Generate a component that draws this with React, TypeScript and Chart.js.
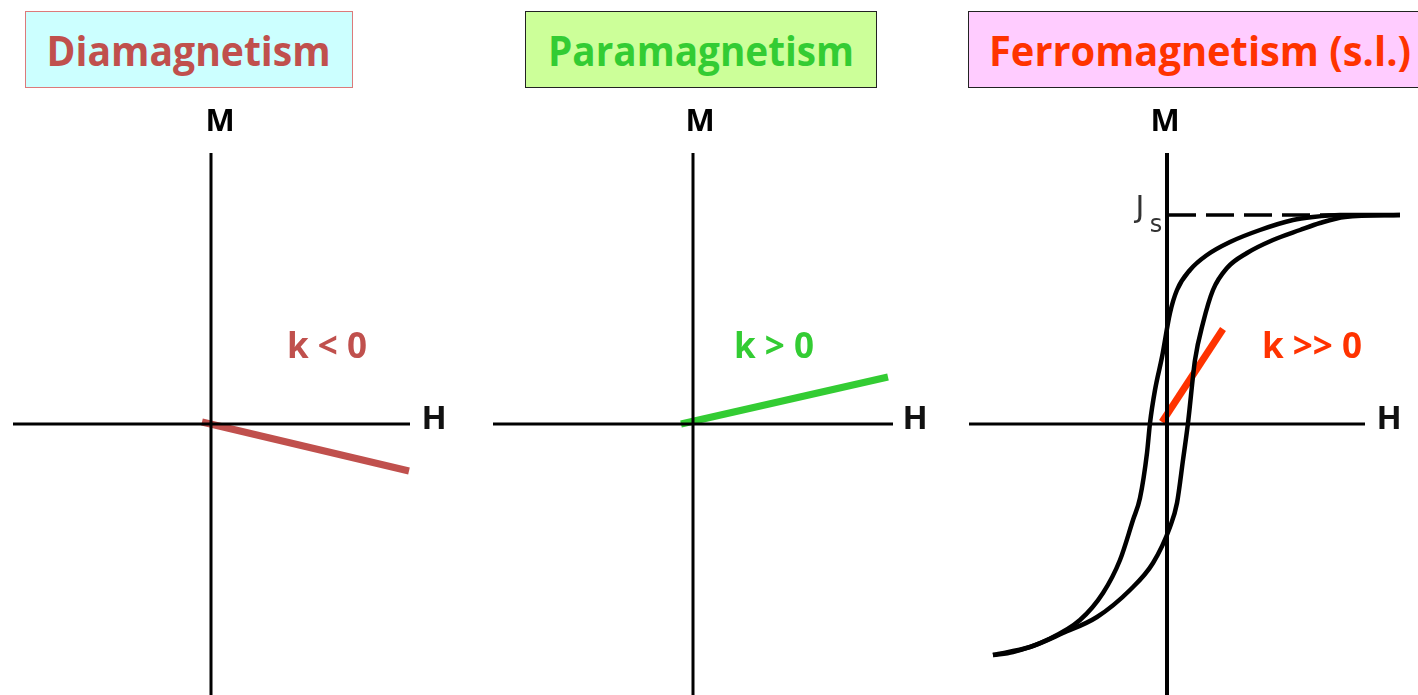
import React, { useEffect, useRef } from "react";
import { Chart, registerables } from "chart.js";

Chart.register(...registerables);

// ---------- data (H, M in arbitrary field / magnetisation units) ----------
const titles = ["Diamagnetism", "Paramagnetism", "Ferromagnetism (s.l.)"];
const kLabels = ["k < 0", "k > 0", "k >> 0"];

const diaH = [-0.09, 1.98];
const diaM = [0.02, -0.47];

const paraH = [-0.12, 1.95];
const paraM = [0.0, 0.47];

const ferroLineH = [-0.05, 0.56];
const ferroLineM = [0.02, 0.95];

// descending branch of the hysteresis loop (sorted by H)
const descH = [-1.74, -1.54, -1.2, -0.87, -0.64, -0.47, -0.34, -0.27, -0.2, -0.17, -0.12, -0.05, 0.03, 0.1, 0.23, 0.4, 0.63, 0.93, 1.26, 1.46, 1.73, 2.33];
const descM = [-2.31, -2.28, -2.16, -1.96, -1.69, -1.36, -0.96, -0.74, -0.29, 0.01, 0.34, 0.67, 1.11, 1.34, 1.54, 1.69, 1.82, 1.94, 2.04, 2.07, 2.09, 2.09];

// ascending branch of the hysteresis loop
const ascH = [-1.74, -1.37, -1.04, -0.7, -0.37, -0.14, 0.03, 0.1, 0.16, 0.21, 0.28, 0.36, 0.46, 0.6, 0.8, 1.06, 1.33, 1.53, 1.78, 2.33];
const ascM = [-2.31, -2.23, -2.09, -1.93, -1.66, -1.39, -1.03, -0.79, -0.36, 0.01, 0.64, 1.01, 1.34, 1.56, 1.71, 1.84, 1.94, 2.01, 2.07, 2.09];

const Js = 2.09;
const JsLineH = [0.01, 1.75];

// axis extents
const hAxisDia = [-1.98, 1.99];
const hAxisPara = [-2.0, 2.0];
const hAxisFerro = [-1.98, 1.98];
const mAxis = [2.71, -2.9];

// ---------- helpers ----------
const pts = (hs: number[], ms: number[]) => hs.map((h, i) => ({ x: h, y: ms[i] }));

type Label = { text: string; h: number; m: number; font: string; color: string };

const AXIS_FONT_M = "bold 31px 'Open Sans'";
const AXIS_FONT_H = "bold 33px 'Open Sans'";
const K_FONT = "bold 35px 'Open Sans'";

type Panel = {
  left: number;
  width: number;
  xmin: number;
  xmax: number;
  datasets: any[];
  labels: Label[];
};

const axisDs = (hAxis: number[], vWidth: number) => [
  {
    data: pts(hAxis, [0, 0]),
    borderColor: "#000",
    borderWidth: 3,
  },
  {
    data: pts([0, 0], mAxis),
    borderColor: "#000",
    borderWidth: vWidth,
  },
];

const panels: Panel[] = [
  {
    left: 0,
    width: 480,
    xmin: -2.11,
    xmax: 2.69,
    datasets: [
      ...axisDs(hAxisDia, 3),
      { data: pts(diaH, diaM), borderColor: "#c0504d", borderWidth: 7 },
    ],
    labels: [
      { text: "M", h: 0.09, m: 3.02, font: AXIS_FONT_M, color: "#000" },
      { text: "H", h: 2.23, m: 0.04, font: AXIS_FONT_H, color: "#111" },
      { text: kLabels[0], h: 1.16, m: 0.76, font: K_FONT, color: "#c0504d" },
    ],
  },
  {
    left: 480,
    width: 470,
    xmin: -2.13,
    xmax: 2.57,
    datasets: [
      ...axisDs(hAxisPara, 3),
      { data: pts(paraH, paraM), borderColor: "#33cc33", borderWidth: 7 },
    ],
    labels: [
      { text: "M", h: 0.07, m: 3.02, font: AXIS_FONT_M, color: "#000" },
      { text: "H", h: 2.22, m: 0.04, font: AXIS_FONT_H, color: "#111" },
      { text: kLabels[1], h: 0.81, m: 0.76, font: K_FONT, color: "#33cc33" },
    ],
  },
  {
    left: 950,
    width: 468,
    xmin: -2.17,
    xmax: 2.51,
    datasets: [
      ...axisDs(hAxisFerro, 4),
      {
        data: pts(JsLineH, [Js, Js]),
        borderColor: "#000",
        borderWidth: 3.5,
        borderDash: [28, 10],
      },
      { data: pts(descH, descM), borderColor: "#000", borderWidth: 4.5, cubicInterpolationMode: "monotone" },
      { data: pts(ascH, ascM), borderColor: "#000", borderWidth: 4.5, cubicInterpolationMode: "monotone" },
      { data: pts(ferroLineH, ferroLineM), borderColor: "#ff3300", borderWidth: 7 },
    ],
    labels: [
      { text: "M", h: -0.02, m: 3.02, font: AXIS_FONT_M, color: "#000" },
      { text: "H", h: 2.22, m: 0.04, font: AXIS_FONT_H, color: "#111" },
      { text: kLabels[2], h: 1.45, m: 0.76, font: K_FONT, color: "#ff3300" },
      { text: "J", h: -0.27, m: 2.15, font: "30px 'DejaVu Sans'", color: "#333" },
      { text: "s", h: -0.11, m: 1.98, font: "24px 'DejaVu Sans'", color: "#333" },
    ],
  },
];

const TOP = 95;
const HEIGHT = 600;

const titleBoxes = [
  { left: 25, width: 328, bg: "#ccffff", border: "#dc7a7a", color: "#c0504d", textWidth: 284, center: true },
  { left: 525, width: 352, bg: "#ccff99", border: "#222", color: "#33cc33", textWidth: 306, center: true },
  { left: 968, width: 470, bg: "#ffccff", border: "#222", color: "#ff3300", textWidth: 422, center: false },
];

function PanelChart({ panel }: { panel: Panel }) {
  const ref = useRef<HTMLCanvasElement | null>(null);
  useEffect(() => {
    if (!ref.current) return;
    const labelPlugin = {
      id: "axisLabels",
      afterDatasetsDraw(chart: any) {
        const ctx = chart.ctx;
        const xs = chart.scales.x;
        const ys = chart.scales.y;
        ctx.save();
        ctx.textAlign = "center";
        ctx.textBaseline = "middle";
        for (const l of panel.labels) {
          ctx.font = l.font;
          ctx.fillStyle = l.color;
          ctx.fillText(l.text, xs.getPixelForValue(l.h), ys.getPixelForValue(l.m));
        }
        ctx.restore();
      },
    };
    const chart = new Chart(ref.current, {
      type: "scatter",
      data: {
        datasets: panel.datasets.map((d) => ({
          showLine: true,
          pointRadius: 0,
          fill: false,
          ...d,
        })),
      },
      options: {
        animation: false,
        responsive: false,
        maintainAspectRatio: false,
        events: [],
        layout: { padding: 0 },
        plugins: { legend: { display: false }, tooltip: { enabled: false } },
        scales: {
          x: { type: "linear", display: false, min: panel.xmin, max: panel.xmax },
          y: { type: "linear", display: false, min: -(HEIGHT - (424 - TOP)) / 100, max: (424 - TOP) / 100 },
        },
      } as any,
      plugins: [labelPlugin],
    });
    return () => chart.destroy();
  }, [panel]);
  return (
    <canvas
      ref={ref}
      width={panel.width}
      height={HEIGHT}
      style={{ position: "absolute", left: panel.left, top: TOP, width: panel.width, height: HEIGHT }}
    />
  );
}

function Title({ idx }: { idx: number }) {
  const b = titleBoxes[idx];
  const spanRef = useRef<HTMLSpanElement | null>(null);
  useEffect(() => {
    const s = spanRef.current;
    if (!s) return;
    s.style.transform = "none";
    const w = s.getBoundingClientRect().width;
    if (w > 0) s.style.transform = `scaleX(${b.textWidth / w})`;
  }, [b]);
  return (
    <div
      style={{
        position: "absolute",
        left: b.left,
        top: 11,
        width: b.width,
        height: 77,
        boxSizing: "border-box",
        background: b.bg,
        border: `1px solid ${b.border}`,
        display: "flex",
        alignItems: "center",
        justifyContent: b.center ? "center" : "flex-start",
        paddingLeft: b.center ? 0 : 20,
      }}
    >
      <span
        ref={spanRef}
        style={{
          display: "inline-block",
          fontFamily: "'Open Sans'",
          fontWeight: 700,
          fontSize: 42,
          lineHeight: 1,
          color: b.color,
          whiteSpace: "nowrap",
          transformOrigin: b.center ? "center" : "left center",
        }}
      >
        {titles[idx]}
      </span>
    </div>
  );
}

export default function App() {
  return (
    <div
      style={{
        position: "absolute",
        left: 0,
        top: 0,
        width: 1418,
        height: 695,
        overflow: "hidden",
        background: "#fff",
      }}
    >
      {panels.map((p, i) => (
        <PanelChart key={i} panel={p} />
      ))}
      {titles.map((_, i) => (
        <Title key={i} idx={i} />
      ))}
    </div>
  );
}
